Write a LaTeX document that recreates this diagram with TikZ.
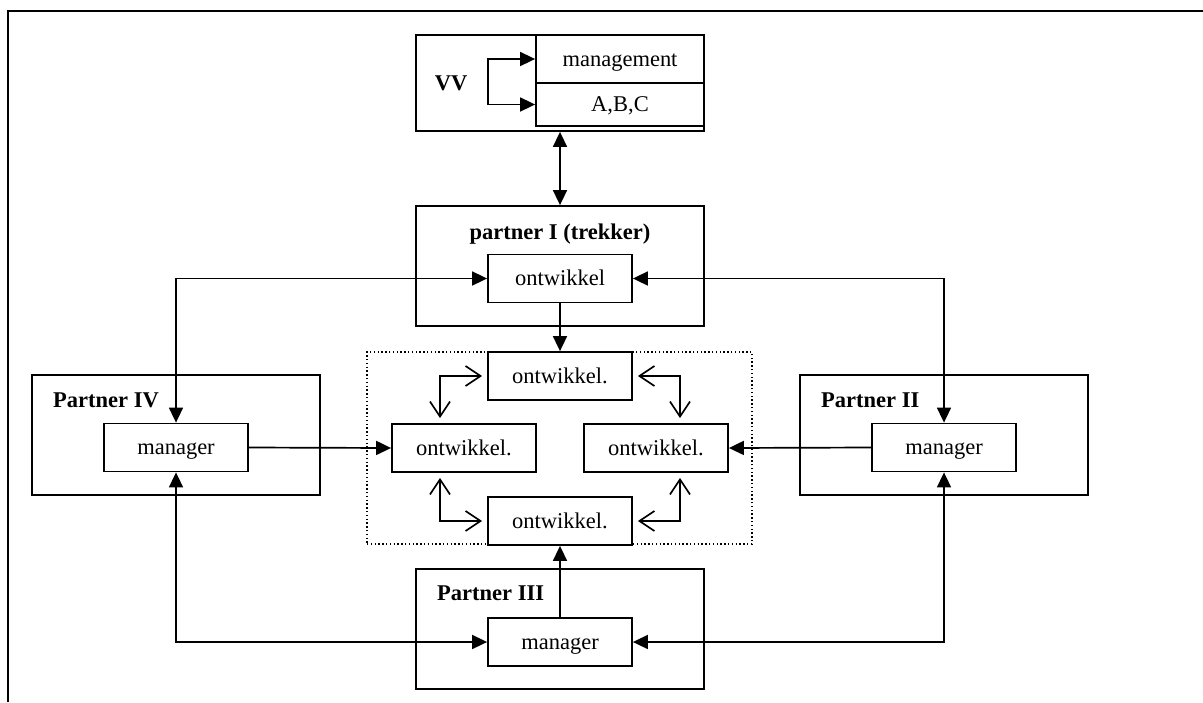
\documentclass[tikz,border=0pt]{standalone}
\usepackage{fontspec}
\setmainfont{Liberation Serif}
\usetikzlibrary{arrows.meta}
\begin{document}
\begin{tikzpicture}[x=1pt,y=-1pt,
  every node/.style={font=\fontsize{22.5}{27}\selectfont,text height=17pt,text depth=3pt},
  frame/.style={draw,line width=1.8pt,inner sep=0pt,minimum width=288pt,minimum height=120pt},
  unit/.style={draw,line width=1.8pt,fill=white,inner sep=0pt,minimum width=144pt,minimum height=48pt},
  title/.style={font=\fontsize{22.5}{27}\selectfont\bfseries,inner sep=0pt},
  link/.style={line width=1.7pt},
  tipA/.style={-{Triangle[length=15pt,width=14pt]}},
  tipAB/.style={{Triangle[length=15pt,width=14pt]}-{Triangle[length=15pt,width=14pt]}},
  tipO/.style={{Straight Barb[length=15pt,width=20pt,line width=1.7pt]}-{Straight Barb[length=15pt,width=20pt,line width=1.7pt]},shorten <=5pt,shorten >=5pt}]
\useasboundingbox (0,0) rectangle (1203,702);

% page frame: left and top edge
\draw[line width=2.4pt] (8,702) -- (8,11) -- (1203,11);

% VV block
\node[frame,minimum height=96pt] (vv) at (560,83) {};
\node[draw,line width=1.8pt,inner sep=0pt,minimum width=168pt,minimum height=48pt] (mgmt) at (620,59) {management};
\node[draw,line width=1.8pt,inner sep=0pt,minimum width=168pt,minimum height=43pt] (abc) at (620,104.5) {A,B,C};
\node[title] (vvlabel) at (451,83) {VV};
\coordinate (brk) at (488,81);
\draw[link,tipA] (brk) |- (mgmt.west);
\draw[link,tipA] (brk) |- (abc.west);

% partner I
\node[frame] (p1) at (560,266) {};
\node[title] (p1label) at (560,232) {partner I (trekker)};
\node[unit] (ont) at (560,278.5) {ontwikkel};

% development cluster
\node[draw,dash pattern=on 1.4pt off 2.4pt,line width=1.4pt,minimum width=385pt,minimum height=192pt,inner sep=0pt] (cluster) at (559.5,448) {};
\node[unit] (devT) at (560,376) {ontwikkel.};
\node[unit] (devL) at (464,448) {ontwikkel.};
\node[unit] (devR) at (656,448) {ontwikkel.};
\node[unit] (devB) at (560,521) {ontwikkel.};

% partner IV
\node[frame] (p4) at (176,435) {};
\node[title,anchor=west] (p4label) at (53,400) {Partner IV};
\node[unit] (m4) at (176,447.5) {manager};

% partner II
\node[frame] (p2) at (944,435) {};
\node[title,anchor=west] (p2label) at (821,400) {Partner II};
\node[unit] (m2) at (944,447.5) {manager};

% partner III
\node[frame] (p3) at (560,629) {};
\node[title,anchor=west] (p3label) at (437,593) {Partner III};
\node[unit] (m3) at (560,642) {manager};

% connectors between the partners
\draw[link,tipAB] (vv.south) -- (p1.north);
\draw[link,tipA] (ont.south) -- (devT.north);
\draw[link,tipAB] (ont.west) -| (m4.north);
\draw[link,tipAB] (ont.east) -| (m2.north);
\draw[link,tipAB] (m4.south) |- (m3.west);
\draw[link,tipAB] (m2.south) |- (m3.east);
\draw[link,tipA] (m3.north) -- (devB.south);
\draw[link,tipA] (m4.east) -- (devL.west);
\draw[link,tipA] (m2.west) -- (devR.east);

% links inside the cluster
\coordinate (cl) at (440,448);
\coordinate (cr) at (680,448);
\draw[link,tipO] (devT.west) -| (devL.north -| cl);
\draw[link,tipO] (devT.east) -| (devR.north -| cr);
\draw[link,tipO] (devL.south -| cl) |- (devB.west);
\draw[link,tipO] (devR.south -| cr) |- (devB.east);
\end{tikzpicture}
\end{document}
